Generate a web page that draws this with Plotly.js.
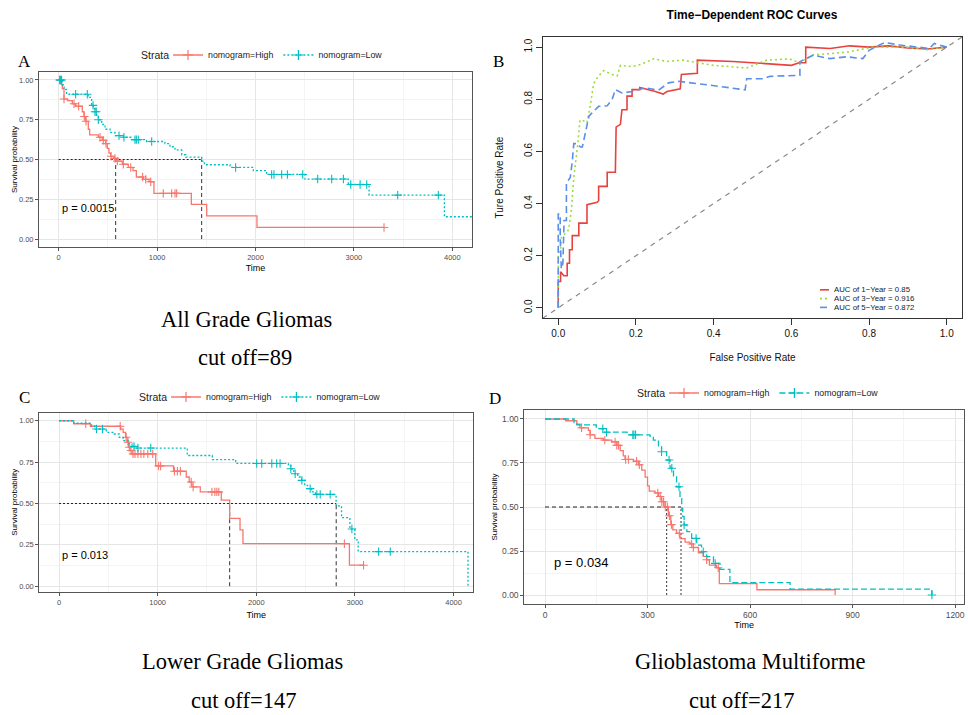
<!DOCTYPE html>
<html>
<head>
<meta charset="utf-8">
<script src="https://cdn.plot.ly/plotly-3.0.1.min.js"></script>
<style>html,body{margin:0;padding:0;background:#fff}#chart{width:968px;height:715px}</style>
</head>
<body>
<div id="chart"></div>
<script>
// ---------------- DATA ----------------
// Panel A – All Grade Gliomas (Kaplan–Meier)
const aHighTime = [0,30,37,54,90,139,173,240,257,274,301,315,403,443,477,494,511,528,560,579,647,707,755,789,860,918,968,1348,1504,2015,3306];
const aHighSurv = [1,0.97,0.945,0.88,0.87,0.85,0.835,0.80,0.77,0.74,0.69,0.655,0.64,0.62,0.60,0.57,0.54,0.52,0.507,0.49,0.47,0.45,0.43,0.39,0.375,0.36,0.287,0.218,0.146,0.073,0.073];
const aHighCensor = [15,54,156,203,261,278,420,454,481,532,572,596,657,732,853,884,935,1063,1148,1182,1199,3306];
const aLowTime = [0,40,55,80,300,335,352,369,386,403,437,471,522,572,657,742,894,1080,1131,1182,1250,1290,1453,1480,1741,1978,2114,2503,2943,3154,3919,4300];
const aLowSurv = [1,0.97,0.94,0.91,0.89,0.84,0.82,0.80,0.77,0.75,0.72,0.69,0.67,0.65,0.64,0.625,0.613,0.60,0.58,0.56,0.53,0.515,0.49,0.467,0.45,0.43,0.406,0.377,0.343,0.276,0.14,0.14];
const aLowCensor = [10,20,30,172,291,349,369,382,403,613,663,775,789,809,945,1798,2164,2188,2266,2324,2480,2632,2774,2893,2968,3063,3130,3445,3858];
const aMedians = [579,1453];

// Panel C – Lower Grade Gliomas
const cHighTime = [0,149,318,625,650,675,690,705,720,740,980,1161,1290,1320,1347,1432,1645,1730,1835,1865,2944,3093];
const cHighSurv = [1,0.982,0.967,0.95,0.93,0.90,0.87,0.84,0.82,0.80,0.727,0.695,0.66,0.63,0.60,0.57,0.52,0.41,0.34,0.257,0.127,0.127];
const cHighCensor = [271,620,680,700,712,730,750,770,800,830,860,900,950,1010,1030,1170,1200,1230,1340,1360,1550,1580,1600,1620,2893,3087];
const cLowTime = [0,149,330,360,480,560,610,650,700,740,770,1300,1554,1791,2325,2350,2380,2420,2460,2490,2520,2560,2600,2809,2864,2949,2999,3033,4146];
const cLowSurv = [1,0.985,0.97,0.95,0.93,0.92,0.90,0.88,0.86,0.845,0.835,0.79,0.765,0.742,0.73,0.71,0.68,0.66,0.64,0.61,0.59,0.57,0.555,0.486,0.414,0.346,0.28,0.209,0];
const cLowCensor = [380,440,760,800,930,2004,2055,2157,2207,2241,2350,2394,2462,2546,2614,2648,2749,2969,3240,3358];
const cMedians = [1730,2810];

// Panel D – Glioblastoma Multiforme
const dHighTime = [0,60,93,102,127,132,146,171,195,210,220,229,234,259,273,283,293,300,305,322,332,341,351,361,368,374,385,395,410,424,434,449,463,473,481,502,510,620,849];
const dHighSurv = [1,0.99,0.97,0.95,0.935,0.91,0.89,0.88,0.87,0.85,0.82,0.79,0.77,0.76,0.74,0.71,0.67,0.62,0.59,0.58,0.56,0.53,0.50,0.45,0.40,0.37,0.35,0.32,0.30,0.29,0.27,0.24,0.22,0.20,0.17,0.155,0.065,0.03,0];
const dHighCensor = [107,132,175,205,210,215,236,244,268,276,330,337,342,347,352,358,364,370,393,429,434,473,507];
const dLowTime = [0,85,93,150,170,240,307,317,332,341,356,366,376,385,395,400,403,407,415,429,444,458,473,493,512,541,717,1132];
const dLowSurv = [1,0.98,0.966,0.945,0.925,0.91,0.903,0.88,0.843,0.814,0.767,0.72,0.672,0.615,0.549,0.492,0.445,0.398,0.36,0.322,0.284,0.246,0.218,0.18,0.146,0.07,0.034,0];
const dLowCensor = [169,180,257,260,265,341,363,371,392,407,442,463,498,1132];
const dMedians = [356,398];

// Panel B – Time-dependent ROC
const rocFpr1 = [0,0,0.006,0.006,0.0145,0.023,0.023,0.029,0.029,0.036,0.036,0.053,0.053,0.074,0.074,0.085,0.10,0.104,0.104,0.126,0.126,0.147,0.149,0.16,0.164,0.177,0.177,0.19,0.19,0.21,0.21,0.25,0.27,0.28,0.314,0.317,0.348,0.358,0.358,0.45,0.60,0.62,0.637,0.637,0.70,0.75,0.80,0.85,0.90,0.95,1.0];
const rocTpr1 = [0,0.101,0.101,0.139,0.123,0.123,0.171,0.171,0.223,0.223,0.277,0.277,0.325,0.325,0.396,0.40,0.405,0.411,0.466,0.466,0.52,0.52,0.693,0.704,0.76,0.76,0.812,0.812,0.837,0.837,0.845,0.83,0.82,0.83,0.84,0.895,0.90,0.90,0.95,0.945,0.93,0.94,0.94,1.0,0.995,1.005,1.0,1.005,0.997,0.993,1.0];
const rocFpr3 = [0,0,0.006,0.008,0.0145,0.027,0.034,0.04,0.049,0.056,0.062,0.074,0.083,0.091,0.104,0.117,0.139,0.152,0.16,0.19,0.215,0.245,0.28,0.32,0.40,0.485,0.536,0.596,0.62,0.656,0.74,0.81,0.90,0.95,1.0];
const rocTpr3 = [0,0.21,0.22,0.27,0.28,0.30,0.38,0.50,0.61,0.72,0.72,0.71,0.78,0.86,0.89,0.91,0.895,0.89,0.93,0.925,0.935,0.955,0.945,0.95,0.93,0.92,0.95,0.955,0.94,0.97,0.98,1.0,1.0,0.99,1.0];
const rocFpr5 = [0,0,0.005,0.005,0.008,0.012,0.015,0.021,0.021,0.031,0.036,0.04,0.049,0.057,0.062,0.07,0.079,0.087,0.104,0.126,0.139,0.147,0.164,0.19,0.224,0.258,0.284,0.31,0.357,0.417,0.481,0.485,0.528,0.545,0.622,0.622,0.656,0.699,0.742,0.784,0.80,0.84,0.879,0.913,0.955,0.968,1.0];
const rocTpr5 = [0,0.36,0.36,0.27,0.15,0.17,0.335,0.335,0.48,0.50,0.56,0.63,0.63,0.617,0.617,0.67,0.735,0.748,0.773,0.775,0.80,0.837,0.824,0.83,0.844,0.835,0.863,0.869,0.859,0.849,0.836,0.879,0.879,0.888,0.892,0.944,0.969,0.956,0.963,0.956,0.988,1.018,1.008,1.001,0.995,1.014,1.0];
const rocDiag = [-0.04,1.04];
const rocLabels = ['AUC of 1\u2212Year = 0.85','AUC of 3\u2212Year = 0.916','AUC of 5\u2212Year = 0.872'];

// Labels / ticks
const strataTitle = 'Strata';
const strataLabels = ['nomogram=High','nomogram=Low'];
const pValues = ['p = 0.0015','p = 0.013','p = 0.034'];
const captions = ['All Grade Gliomas','cut off=89','Lower Grade Gliomas','cut off=147','Glioblastoma Multiforme','cut off=217'];
const panelLetters = ['A','B','C','D'];
const kmYTicks = [0,0.25,0.5,0.75,1];
const kmYTickText = ['0.00','0.25','0.50','0.75','1.00'];
const kmXTicks = [0,1000,2000,3000,4000];
const gbmXTicks = [0,300,600,900,1200];
const rocTicks = [0,0.2,0.4,0.6,0.8,1.0];
const rocTickText = ['0.0','0.2','0.4','0.6','0.8','1.0'];

// ---------------- HELPERS ----------------
const W = 968, H = 715;
const px = v => v / W;
const py = v => 1 - v / H;
const RED = '#F8766D', CYAN = '#00BFC4';
const SANS = '"Liberation Sans",Arial,sans-serif';
const SERIF = '"Liberation Serif","Times New Roman",serif';

function stepAt(T, S, t) {
  let v = S[0];
  for (let i = 0; i < T.length; i++) { if (T[i] <= t) v = S[i]; else break; }
  return v;
}

const traces = [];
function km(T, S, C, color, dash, xa, ya, name, leg) {
  traces.push({x: T, y: S, xaxis: xa, yaxis: ya, mode: 'lines', name: name,
    line: {shape: 'hv', color: color, width: 1.3, dash: dash}, showlegend: false, hoverinfo: 'skip'});
  traces.push({x: C, y: C.map(t => stepAt(T, S, t)), xaxis: xa, yaxis: ya, mode: 'markers', name: name,
    marker: {symbol: 'cross-thin', size: 6, color: color, line: {color: color, width: 1.1}},
    showlegend: false, hoverinfo: 'skip'});
  traces.push({x: [null], y: [null], xaxis: xa, yaxis: ya, mode: 'lines+markers', name: name,
    line: {color: color, width: 1.3, dash: dash},
    marker: {symbol: 'cross-thin', size: 7, color: color, line: {color: color, width: 1.2}},
    showlegend: true, legend: leg});
}
function medians(M, xa, ya, hdash, vdash) {
  traces.push({x: [0, Math.max(...M)], y: [0.5, 0.5], xaxis: xa, yaxis: ya, mode: 'lines',
    line: {color: '#222', width: 1, dash: hdash}, showlegend: false, hoverinfo: 'skip'});
  M.forEach(m => traces.push({x: [m, m], y: [0, 0.5], xaxis: xa, yaxis: ya, mode: 'lines',
    line: {color: '#333', width: 1, dash: vdash}, showlegend: false, hoverinfo: 'skip'}));
}
const DOTS = '2px,2px', SHORTDASH = '4px,3px', KMDASH = '6px,3px';

// Panel A
medians(aMedians, 'x', 'y', DOTS, SHORTDASH);
km(aHighTime, aHighSurv, aHighCensor, RED, 'solid', 'x', 'y', strataLabels[0], 'legend');
km(aLowTime, aLowSurv, aLowCensor, CYAN, DOTS, 'x', 'y', strataLabels[1], 'legend');
// Panel C
medians(cMedians, 'x3', 'y3', DOTS, SHORTDASH);
km(cHighTime, cHighSurv, cHighCensor, RED, 'solid', 'x3', 'y3', strataLabels[0], 'legend3');
km(cLowTime, cLowSurv, cLowCensor, CYAN, DOTS, 'x3', 'y3', strataLabels[1], 'legend3');
// Panel D
medians(dMedians, 'x4', 'y4', SHORTDASH, DOTS);
km(dHighTime, dHighSurv, dHighCensor, RED, 'solid', 'x4', 'y4', strataLabels[0], 'legend4');
km(dLowTime, dLowSurv, dLowCensor, CYAN, KMDASH, 'x4', 'y4', strataLabels[1], 'legend4');
// Panel B
const ROC_COLS = ['#E8423F', '#9CDB3C', '#5B8FE8'];
const ROC_DASH = ['solid', '2px,3px', '7px,4px'];
traces.push({x: rocDiag, y: rocDiag, xaxis: 'x2', yaxis: 'y2', mode: 'lines',
  line: {color: '#8a8a8a', width: 1.2, dash: '5px,5px'}, showlegend: false, hoverinfo: 'skip'});
[[rocFpr1, rocTpr1], [rocFpr3, rocTpr3], [rocFpr5, rocTpr5]].forEach((r, i) => {
  traces.push({x: r[0], y: r[1], xaxis: 'x2', yaxis: 'y2', mode: 'lines', name: rocLabels[i],
    line: {color: ROC_COLS[i], width: 1.6, dash: ROC_DASH[i]}, showlegend: false});
});

// ---------------- LAYOUT ----------------
function kmAxis(extra) {
  return Object.assign({
    showline: true, mirror: true, linecolor: '#555', linewidth: 1,
    ticks: 'outside', ticklen: 3, tickcolor: '#555', tickwidth: 1,
    showgrid: true, gridcolor: '#e6e6e6', gridwidth: 1, zeroline: false,
    fixedrange: true
  }, extra);
}
const kmTickFontAC = {family: SANS, size: 7.5, color: '#4d4d4d'};
const kmTickFontD = {family: SANS, size: 8.5, color: '#4d4d4d'};
function kmLegend(x0, cy) {
  return {x: px(x0), y: py(cy), xanchor: 'left', yanchor: 'middle', orientation: 'h',
    bgcolor: 'rgba(0,0,0,0)', borderwidth: 0, itemwidth: 30,
    font: {family: SANS, size: 8.8, color: '#222'}};
}

const layout = {
  width: W, height: H, margin: {l: 0, r: 0, t: 0, b: 0},
  paper_bgcolor: '#fff', plot_bgcolor: '#fff', showlegend: true,
  title: {text: '<b>Time\u2212Dependent ROC Curves</b>', x: px(752), y: py(14.5), xanchor: 'center', yanchor: 'middle',
    font: {family: SANS, size: 12, color: '#000'}},
  // A
  xaxis: kmAxis({domain: [px(39), px(472)], range: [-200, 4200], anchor: 'y', tickvals: kmXTicks,
    minor: {dtick: 500, tick0: 0, showgrid: true, gridcolor: '#f4f4f4'},
    tickfont: kmTickFontAC, title: {text: 'Time', font: {family: SANS, size: 9, color: '#000'}, standoff: 3}}),
  yaxis: kmAxis({domain: [py(247), py(72)], range: [-0.05, 1.05], anchor: 'x', tickvals: kmYTicks, ticktext: kmYTickText,
    minor: {dtick: 0.125, tick0: 0, showgrid: true, gridcolor: '#f4f4f4'},
    tickfont: kmTickFontAC, title: {text: 'Survival probability', font: {family: SANS, size: 8, color: '#000'}, standoff: 0}}),
  // B
  xaxis2: {domain: [px(542.7), px(962.3)], range: [-0.04, 1.04], anchor: 'y2', showline: true, mirror: true,
    linecolor: '#333', linewidth: 1, ticks: 'outside', ticklen: 6, tickcolor: '#333', tickvals: rocTicks, ticktext: rocTickText,
    showgrid: false, zeroline: false, tickfont: {family: SANS, size: 10, color: '#111'},
    title: {text: 'False Positive Rate', font: {family: SANS, size: 10, color: '#111'}, standoff: 15}},
  yaxis2: {domain: [py(318.3), py(36.7)], range: [-0.04, 1.04], anchor: 'x2', showline: true, mirror: true,
    linecolor: '#333', linewidth: 1, ticks: 'outside', ticklen: 6, tickcolor: '#333', tickvals: rocTicks, ticktext: rocTickText,
    tickangle: -90, showgrid: false, zeroline: false, tickfont: {family: SANS, size: 10, color: '#111'},
    title: {text: 'Ture Positive Rate', font: {family: SANS, size: 10, color: '#111'}, standoff: 17}},
  // C
  xaxis3: kmAxis({domain: [px(39.3), px(473.3)], range: [-200, 4200], anchor: 'y3', tickvals: kmXTicks,
    minor: {dtick: 500, tick0: 0, showgrid: true, gridcolor: '#f4f4f4'},
    tickfont: kmTickFontAC, title: {text: 'Time', font: {family: SANS, size: 9, color: '#000'}, standoff: 5}}),
  yaxis3: kmAxis({domain: [py(592), py(412.5)], range: [-0.035, 1.05], anchor: 'x3', tickvals: kmYTicks, ticktext: kmYTickText,
    minor: {dtick: 0.125, tick0: 0, showgrid: true, gridcolor: '#f4f4f4'},
    tickfont: kmTickFontAC, title: {text: 'Survival probability', font: {family: SANS, size: 8, color: '#000'}, standoff: 0}}),
  // D
  xaxis4: kmAxis({domain: [px(524.3), px(964)], range: [-60.6, 1226], anchor: 'y4', tickvals: gbmXTicks,
    minor: {dtick: 150, tick0: 0, showgrid: true, gridcolor: '#f4f4f4'},
    tickfont: kmTickFontD, title: {text: 'Time', font: {family: SANS, size: 9, color: '#000'}, standoff: 0}}),
  yaxis4: kmAxis({domain: [py(604), py(410)], range: [-0.051, 1.051], anchor: 'x4', tickvals: kmYTicks, ticktext: kmYTickText,
    minor: {dtick: 0.125, tick0: 0, showgrid: true, gridcolor: '#f4f4f4'},
    tickfont: kmTickFontD, title: {text: 'Survival probability', font: {family: SANS, size: 8, color: '#000'}, standoff: 3}}),
  legend: kmLegend(168, 55),
  legend3: kmLegend(166, 397),
  legend4: kmLegend(664, 393),
  annotations: [],
  shapes: []
};

function ann(text, x, y, font, xanchor) {
  layout.annotations.push({text: text, x: px(x), y: py(y), xref: 'paper', yref: 'paper', showarrow: false,
    xanchor: xanchor || 'center', yanchor: 'middle', font: font});
}
// legend titles (Strata)
const strataFont = {family: SANS, size: 10.5, color: '#222'};
ann(strataTitle, 155, 55, strataFont);
ann(strataTitle, 153, 397, strataFont);
ann(strataTitle, 651, 393, strataFont);
// panel letters
const letterFont = {family: SERIF, size: 17, color: '#000'};
ann(panelLetters[0], 24, 62, letterFont);
ann(panelLetters[1], 498, 61, letterFont);
ann(panelLetters[2], 24, 397, letterFont);
ann(panelLetters[3], 495, 398, letterFont);
// p values
ann(pValues[0], 88, 208, {family: SANS, size: 11, color: '#000'});
ann(pValues[1], 85, 555, {family: SANS, size: 11, color: '#000'});
ann(pValues[2], 581, 562, {family: SANS, size: 13, color: '#000'});
// captions
const capFont = {family: SERIF, size: 22.5, color: '#000'};
ann(captions[0], 246, 320, capFont);
ann(captions[1], 245, 357, capFont);
ann(captions[2], 242, 661, capFont);
ann(captions[3], 243, 700, capFont);
ann(captions[4], 750, 661, capFont);
ann(captions[5], 741, 700, capFont);
// ROC legend (R base style, compact)
const rocLegY = [289.8, 298.6, 307.4];
rocLabels.forEach((lab, i) => {
  layout.shapes.push({type: 'line', xref: 'paper', yref: 'paper', x0: px(820), x1: px(829), y0: py(rocLegY[i]), y1: py(rocLegY[i]),
    line: {color: ROC_COLS[i], width: 1.6, dash: ROC_DASH[i]}});
  ann(lab, 831.5, rocLegY[i], {family: SANS, size: 7.8, color: '#222'}, 'left');
});

Plotly.newPlot('chart', traces, layout, {staticPlot: true, displayModeBar: false});
</script>
</body>
</html>
